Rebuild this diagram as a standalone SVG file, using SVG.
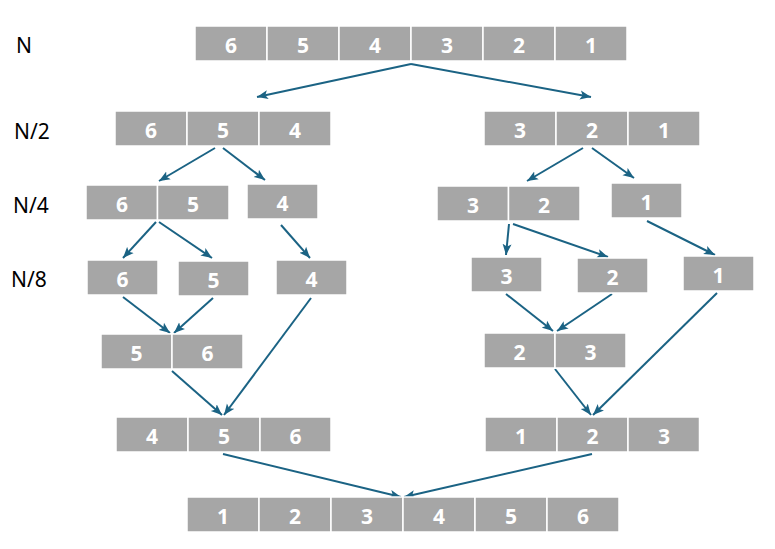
<svg xmlns="http://www.w3.org/2000/svg" width="775" height="549" viewBox="0 0 775 549">
<defs>
<style>
.c{fill:#a6a6a6;stroke:#ffffff;stroke-width:1.5}
.t{font-family:"Open Sans","Noto Sans","Liberation Sans",sans-serif;font-weight:bold;font-size:21px;fill:#ffffff;text-anchor:middle}
.l{font-family:"Noto Sans","Open Sans","Liberation Sans",sans-serif;font-size:21px;fill:#000000}
.a{fill:none;stroke:#1b6384;stroke-width:2;marker-end:url(#ah)}
</style>
<marker id="ah" markerUnits="userSpaceOnUse" markerWidth="12" markerHeight="10" viewBox="0 0 12 10" refX="11" refY="5" orient="auto">
<path d="M0,0.5 L11,5 L0,9.5 L2.5,5 Z" fill="#1b6384"/>
</marker>
</defs>
<rect width="775" height="549" fill="#ffffff"/>
<g id="labels">
<text class="l" x="16" y="53">N</text>
<text class="l" x="14" y="139">N/2</text>
<text class="l" x="13" y="213">N/4</text>
<text class="l" x="11" y="287">N/8</text>
</g>
<g id="connectors">
<line class="a" x1="411" y1="64" x2="257" y2="97"/>
<line class="a" x1="411" y1="64" x2="591" y2="97"/>
<line class="a" x1="215" y1="148" x2="159" y2="181"/>
<line class="a" x1="223" y1="148" x2="265" y2="180"/>
<line class="a" x1="583" y1="148" x2="527" y2="181"/>
<line class="a" x1="592" y1="148" x2="634" y2="178"/>
<line class="a" x1="156" y1="222" x2="123" y2="258"/>
<line class="a" x1="159" y1="222" x2="212" y2="258"/>
<line class="a" x1="281" y1="225" x2="310" y2="258"/>
<line class="a" x1="509" y1="224" x2="506" y2="255"/>
<line class="a" x1="513" y1="224" x2="608" y2="257"/>
<line class="a" x1="647" y1="221" x2="715" y2="255"/>
<line class="a" x1="123" y1="297" x2="170" y2="333"/>
<line class="a" x1="213" y1="298" x2="174" y2="333"/>
<line class="a" x1="506" y1="294" x2="553" y2="331"/>
<line class="a" x1="612" y1="294" x2="557" y2="331"/>
<line class="a" x1="311" y1="298" x2="224" y2="415"/>
<line class="a" x1="172" y1="371" x2="222" y2="415"/>
<line class="a" x1="717" y1="293" x2="593" y2="415"/>
<line class="a" x1="555" y1="369" x2="591" y2="415"/>
<line class="a" x1="223" y1="454" x2="401" y2="497"/>
<line class="a" x1="592" y1="454" x2="404" y2="497"/>
</g>
<g id="n-top">
<rect class="c" x="195" y="26" width="72" height="35"/><text class="t" x="231" y="53">6</text>
<rect class="c" x="267" y="26" width="72" height="35"/><text class="t" x="303" y="53">5</text>
<rect class="c" x="339" y="26" width="72" height="35"/><text class="t" x="375" y="53">4</text>
<rect class="c" x="411" y="26" width="72" height="35"/><text class="t" x="447" y="53">3</text>
<rect class="c" x="483" y="26" width="72" height="35"/><text class="t" x="519" y="53">2</text>
<rect class="c" x="555" y="26" width="72" height="35"/><text class="t" x="591" y="53">1</text>
</g>
<g id="n2-left">
<rect class="c" x="115" y="111" width="72" height="35"/><text class="t" x="151" y="138">6</text>
<rect class="c" x="187" y="111" width="72" height="35"/><text class="t" x="223" y="138">5</text>
<rect class="c" x="259" y="111" width="72" height="35"/><text class="t" x="295" y="138">4</text>
</g>
<g id="n2-right">
<rect class="c" x="484" y="111" width="72" height="35"/><text class="t" x="520" y="138">3</text>
<rect class="c" x="556" y="111" width="72" height="35"/><text class="t" x="592" y="138">2</text>
<rect class="c" x="628" y="111" width="72" height="35"/><text class="t" x="664" y="138">1</text>
</g>
<g id="n4-65">
<rect class="c" x="86" y="185" width="71.5" height="35"/><text class="t" x="122" y="212">6</text>
<rect class="c" x="157.5" y="185" width="71.5" height="35"/><text class="t" x="193" y="212">5</text>
</g>
<g id="n4-4">
<rect class="c" x="247" y="184" width="71" height="35"/><text class="t" x="282.5" y="211">4</text>
</g>
<g id="n4-32">
<rect class="c" x="437" y="186" width="71.5" height="35"/><text class="t" x="473" y="213">3</text>
<rect class="c" x="508.5" y="186" width="71.5" height="35"/><text class="t" x="544" y="213">2</text>
</g>
<g id="n4-1">
<rect class="c" x="611" y="183" width="71" height="35"/><text class="t" x="646.5" y="210">1</text>
</g>
<g id="n8-6"><rect class="c" x="87" y="260" width="71" height="35"/><text class="t" x="122.5" y="287">6</text></g>
<g id="n8-5"><rect class="c" x="178" y="261" width="71" height="35"/><text class="t" x="213.5" y="288">5</text></g>
<g id="n8-4"><rect class="c" x="276" y="260" width="71" height="35"/><text class="t" x="311.5" y="287">4</text></g>
<g id="n8-3"><rect class="c" x="471" y="257" width="71" height="35"/><text class="t" x="506.5" y="284">3</text></g>
<g id="n8-2"><rect class="c" x="577" y="258" width="71" height="35"/><text class="t" x="612.5" y="285">2</text></g>
<g id="n8-1"><rect class="c" x="683" y="256" width="71" height="35"/><text class="t" x="718.5" y="283">1</text></g>
<g id="m-56">
<rect class="c" x="101" y="334" width="71" height="35"/><text class="t" x="136.5" y="361">5</text>
<rect class="c" x="172" y="334" width="71" height="35"/><text class="t" x="207.5" y="361">6</text>
</g>
<g id="m-23">
<rect class="c" x="484" y="333" width="71" height="35"/><text class="t" x="519.5" y="360">2</text>
<rect class="c" x="555" y="333" width="71" height="35"/><text class="t" x="590.5" y="360">3</text>
</g>
<g id="m-456">
<rect class="c" x="116" y="417" width="72" height="35"/><text class="t" x="152" y="444">4</text>
<rect class="c" x="188" y="417" width="72" height="35"/><text class="t" x="224" y="444">5</text>
<rect class="c" x="260" y="417" width="71" height="35"/><text class="t" x="295.5" y="444">6</text>
</g>
<g id="m-123">
<rect class="c" x="485" y="417" width="72" height="35"/><text class="t" x="521" y="444">1</text>
<rect class="c" x="557" y="417" width="71" height="35"/><text class="t" x="592.5" y="444">2</text>
<rect class="c" x="628" y="417" width="71.5" height="35"/><text class="t" x="664" y="444">3</text>
</g>
<g id="final">
<rect class="c" x="187" y="497" width="72" height="35"/><text class="t" x="223" y="524">1</text>
<rect class="c" x="259" y="497" width="72" height="35"/><text class="t" x="295" y="524">2</text>
<rect class="c" x="331" y="497" width="72" height="35"/><text class="t" x="367" y="524">3</text>
<rect class="c" x="403" y="497" width="72" height="35"/><text class="t" x="439" y="524">4</text>
<rect class="c" x="475" y="497" width="72" height="35"/><text class="t" x="511" y="524">5</text>
<rect class="c" x="547" y="497" width="72" height="35"/><text class="t" x="583" y="524">6</text>
</g>
</svg>
